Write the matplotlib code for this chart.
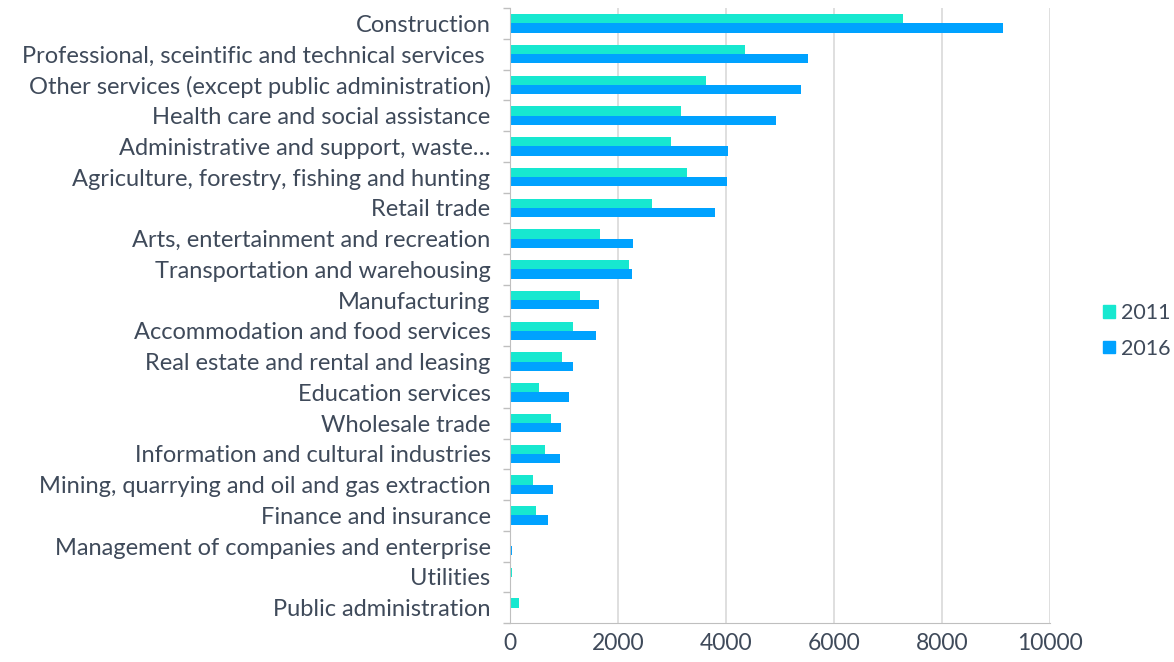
import numpy as np
import matplotlib.pyplot as plt
import matplotlib.ticker as ticker
from matplotlib.patches import Patch

plt.rcParams['font.family'] = ['Lato', 'DejaVu Sans']

categories = [
    "Construction",
    "Professional, sceintific and technical services ",
    "Other services (except public administration)",
    "Health care and social assistance",
    "Administrative and support, waste\u2026",
    "Agriculture, forestry, fishing and hunting",
    "Retail trade",
    "Arts, entertainment and recreation",
    "Transportation and warehousing",
    "Manufacturing",
    "Accommodation and food services",
    "Real estate and rental and leasing",
    "Education services",
    "Wholesale trade",
    "Information and cultural industries",
    "Mining, quarrying and oil and gas extraction",
    "Finance and insurance",
    "Management of companies and enterprise",
    "Utilities",
    "Public administration",
]
vals_2011 = [7270, 4350, 3630, 3170, 2990, 3280, 2630, 1670, 2200, 1290,
             1170, 960, 545, 755, 655, 425, 480, 20, 30, 175]
vals_2016 = [9130, 5520, 5390, 4920, 4030, 4010, 3800, 2280, 2265, 1640,
             1585, 1170, 1090, 940, 930, 800, 710, 45, 20, 0]
years = ["2011", "2016"]
colors = ["#17E8D0", "#00A2FF"]
text_color = "#3F4A5A"

fig = plt.figure(figsize=(11.74, 6.62), dpi=100)
ax = fig.add_axes([510 / 1174, 39 / 662, 540 / 1174, 615 / 662])

n = len(categories)
y = np.arange(n)
h = 0.30
ax.barh(y - h / 2, vals_2011, height=h, color=colors[0])
ax.barh(y + h / 2, vals_2016, height=h, color=colors[1])

ax.set_ylim(n - 0.5, -0.5)
ax.set_xlim(0, 10000)
ax.set_yticks(y)
ax.set_yticklabels(categories, fontsize=17, color=text_color)
ax.yaxis.set_minor_locator(ticker.FixedLocator(np.arange(-0.5, n, 1)))
ax.tick_params(axis="y", which="major", length=0, pad=14)
ax.tick_params(axis="y", which="minor", length=5, color="#BFBFBF", width=1)

ax.set_xticks(np.arange(0, 10001, 2000))
ax.tick_params(axis="x", length=0, labelsize=16.5, labelcolor=text_color, pad=7)
ax.grid(axis="x", color="#D9D9D9", linewidth=1.2)
ax.set_axisbelow(True)

for s in ["top", "right"]:
    ax.spines[s].set_visible(False)
ax.spines["left"].set_color("#BFBFBF")
ax.spines["bottom"].set_color("#BFBFBF")

handles = [Patch(color=c, label=l) for c, l in zip(colors, years)]
fig.legend(handles=handles, loc="center left", bbox_to_anchor=(1084 / 1174, 331 / 662),
           frameon=False, fontsize=15.5, handlelength=0.53, handleheight=0.53,
           handletextpad=0.3, labelcolor=text_color, labelspacing=0.7)

fig.savefig("out.png", dpi=100)
